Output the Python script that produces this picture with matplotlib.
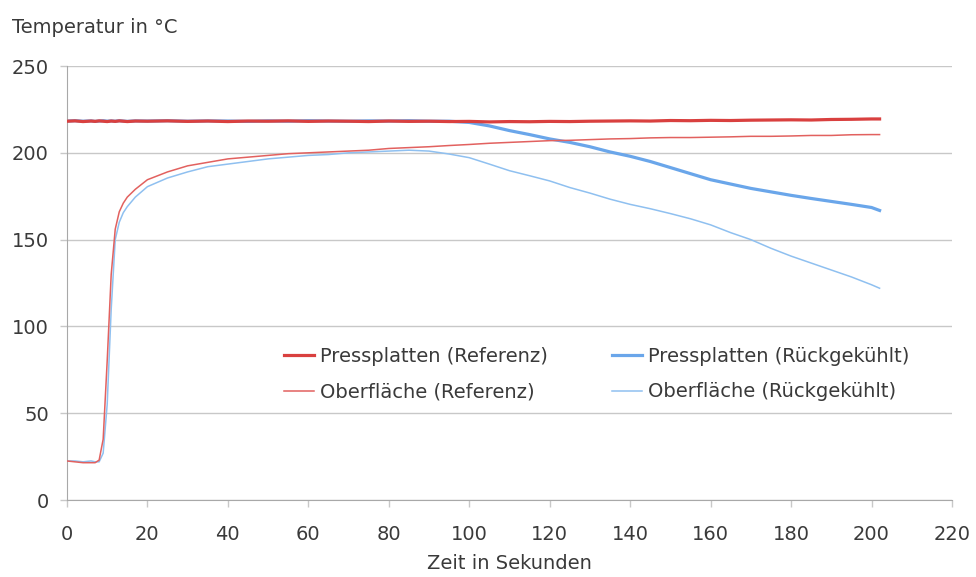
import matplotlib
matplotlib.use("Agg")
import matplotlib.pyplot as plt

plt.rcParams['font.family'] = ['DejaVu Sans']

# Zeitpunkte in Sekunden
zeit = [0, 2, 4, 6, 7, 8, 9, 10, 11, 12, 13, 14, 15, 17,
        20, 25, 30, 35, 40, 45, 50, 55, 60, 65, 70, 75, 80, 85, 90, 95,
        100, 105, 110, 115, 120, 125, 130, 135, 140, 145, 150, 155, 160,
        165, 170, 175, 180, 185, 190, 195, 200, 202]

# Temperaturen in °C
press_ref = [218.2, 218.4, 218.0, 218.3, 218.1, 218.4, 218.2, 218.0, 218.3, 218.1, 218.4, 218.2, 218.0, 218.3,
             218.2, 218.4, 218.1, 218.3, 218.0, 218.3, 218.2, 218.4, 218.1, 218.3, 218.2, 218.0, 218.3, 218.1, 218.2, 218.0,
             218.1, 217.8, 218.0, 217.9, 218.1, 218.0, 218.2, 218.3, 218.4, 218.3, 218.6, 218.5, 218.7,
             218.6, 218.8, 218.9, 219.0, 218.9, 219.2, 219.3, 219.5, 219.5]

ober_ref = [22.5, 22.0, 21.5, 21.5, 21.5, 23.0, 35.0, 80.0, 130.0, 156.0, 166.0, 171.0, 174.5, 179.0,
            184.5, 189.0, 192.5, 194.5, 196.5, 197.5, 198.5, 199.5, 200.0, 200.5, 201.0, 201.5, 202.5, 203.0, 203.5, 204.2,
            204.8, 205.5, 206.0, 206.5, 207.0, 207.2, 207.6, 208.0, 208.2, 208.6, 208.8, 208.8, 209.0,
            209.2, 209.5, 209.5, 209.7, 210.0, 210.0, 210.4, 210.5, 210.5]

press_rk = [218.3, 218.5, 218.2, 218.4, 218.1, 218.3, 218.5, 218.2, 218.4, 218.2, 218.5, 218.3, 218.1, 218.4,
            218.3, 218.5, 218.2, 218.4, 218.3, 218.1, 218.4, 218.2, 218.5, 218.3, 218.2, 218.4, 218.3, 218.5, 218.2, 218.2,
            217.5, 215.5, 212.8, 210.5, 208.0, 206.0, 203.5, 200.5, 198.0, 195.0, 191.5, 188.0, 184.5,
            182.0, 179.5, 177.5, 175.5, 173.7, 172.0, 170.3, 168.5, 166.8]

ober_rk = [22.5, 22.5, 22.0, 22.5, 22.0, 22.0, 27.0, 55.0, 110.0, 150.0, 160.0, 165.5, 169.0, 174.5,
           180.5, 185.5, 189.0, 192.0, 193.5, 195.0, 196.5, 197.5, 198.5, 199.0, 200.0, 200.5, 201.0, 201.5, 201.0, 199.3,
           197.2, 193.5, 189.7, 186.8, 183.8, 180.0, 176.8, 173.3, 170.3, 167.8, 165.0, 162.0, 158.5,
           154.0, 150.0, 145.0, 140.5, 136.5, 132.5, 128.5, 124.0, 122.0]

x_ticks = list(range(0, 221, 20))
y_ticks = list(range(0, 251, 50))

text_col = '#3a3a3a'
grid_col = '#c8c8c8'
fs = 14

fig = plt.figure(figsize=(9.76, 5.77), dpi=100)
ax = fig.add_axes([0.0686, 0.1334, 0.9068, 0.7522])

ax.plot(zeit, press_ref, color='#d9403f', lw=2.3, label='Pressplatten (Referenz)', zorder=3)
ax.plot(zeit, ober_ref, color='#e2615f', lw=1.1, label='Oberfläche (Referenz)', zorder=3)
ax.plot(zeit, press_rk, color='#6aa6ea', lw=2.3, label='Pressplatten (Rückgekühlt)', zorder=2)
ax.plot(zeit, ober_rk, color='#8fc0f0', lw=1.1, label='Oberfläche (Rückgekühlt)', zorder=2)

ax.set_xlim(0, 220)
ax.set_ylim(0, 250)
ax.set_xticks(x_ticks)
ax.set_yticks(y_ticks)
ax.tick_params(axis='both', colors=grid_col, labelcolor=text_col, labelsize=fs,
               length=5, width=1)
ax.tick_params(axis='y', pad=8)
ax.tick_params(axis='x', pad=13)
ax.grid(axis='y', color=grid_col, lw=1)
ax.set_axisbelow(True)

for side in ('top', 'right'):
    ax.spines[side].set_visible(False)
for side in ('left', 'bottom'):
    ax.spines[side].set_color('#a8a8a8')

ax.set_xlabel('Zeit in Sekunden', fontsize=fs, color=text_col, labelpad=7)
fig.text(0.012, 0.953, 'Temperatur in °C', fontsize=fs, color=text_col, va='center', ha='left')

ax.legend(loc='center left', bbox_to_anchor=(0.225, 0.29), ncol=2, frameon=False,
          fontsize=fs, labelcolor=text_col, handlelength=1.55, handletextpad=0.3,
          columnspacing=3.3, labelspacing=0.85)

fig.savefig('out.png', dpi=100)
